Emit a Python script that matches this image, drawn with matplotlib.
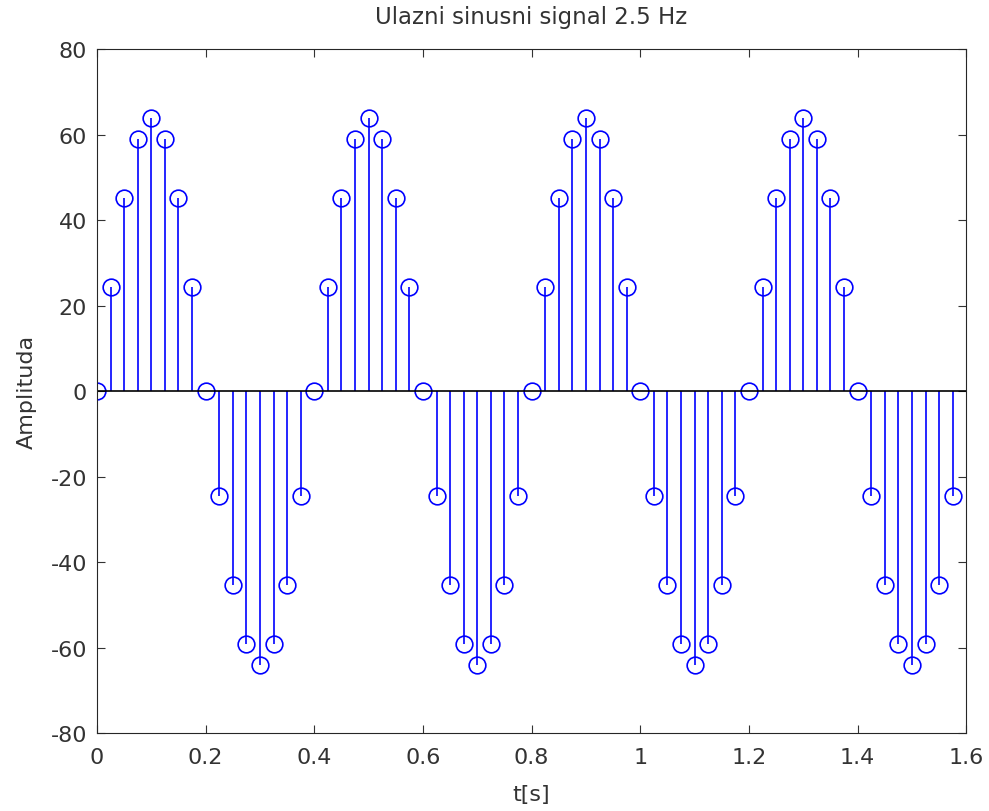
import numpy as np
import matplotlib.pyplot as plt

plt.rcParams['font.family'] = ['DejaVu Sans']
plt.rcParams['axes.unicode_minus'] = False

t = [0.000, 0.025, 0.050, 0.075, 0.100, 0.125, 0.150, 0.175,
     0.200, 0.225, 0.250, 0.275, 0.300, 0.325, 0.350, 0.375,
     0.400, 0.425, 0.450, 0.475, 0.500, 0.525, 0.550, 0.575,
     0.600, 0.625, 0.650, 0.675, 0.700, 0.725, 0.750, 0.775,
     0.800, 0.825, 0.850, 0.875, 0.900, 0.925, 0.950, 0.975,
     1.000, 1.025, 1.050, 1.075, 1.100, 1.125, 1.150, 1.175,
     1.200, 1.225, 1.250, 1.275, 1.300, 1.325, 1.350, 1.375,
     1.400, 1.425, 1.450, 1.475, 1.500, 1.525, 1.550, 1.575]
amp = [0, 24.5, 45.3, 59.1, 64, 59.1, 45.3, 24.5,
       0, -24.5, -45.3, -59.1, -64, -59.1, -45.3, -24.5,
       0, 24.5, 45.3, 59.1, 64, 59.1, 45.3, 24.5,
       0, -24.5, -45.3, -59.1, -64, -59.1, -45.3, -24.5,
       0, 24.5, 45.3, 59.1, 64, 59.1, 45.3, 24.5,
       0, -24.5, -45.3, -59.1, -64, -59.1, -45.3, -24.5,
       0, 24.5, 45.3, 59.1, 64, 59.1, 45.3, 24.5,
       0, -24.5, -45.3, -59.1, -64, -59.1, -45.3, -24.5]
xticks = [0, 0.2, 0.4, 0.6, 0.8, 1.0, 1.2, 1.4, 1.6]
xtick_labels = ['0', '0.2', '0.4', '0.6', '0.8', '1', '1.2', '1.4', '1.6']
yticks = [-80, -60, -40, -20, 0, 20, 40, 60, 80]

fig = plt.figure(figsize=(9.89, 8.12), dpi=100)
ax = fig.add_axes([0.098, 0.096, 0.879, 0.842])

ml, sl, bl = ax.stem(t, amp, basefmt='k-')
plt.setp(sl, color='#0000ff', linewidth=1.2)
plt.setp(ml, color='#0000ff', markerfacecolor='none', markersize=12, markeredgewidth=1.2)
plt.setp(bl, color='black', linewidth=1.2, xdata=[0, 1.6])

ax.set_xlim(0, 1.6)
ax.set_ylim(-80, 80)
ax.set_xticks(xticks)
ax.set_xticklabels(xtick_labels)
ax.set_yticks(yticks)
ax.tick_params(direction='in', top=True, right=True, labelsize=16, colors='#333333', length=6)
ax.tick_params(axis='x', pad=10)
ax.tick_params(axis='y', pad=7)
for s in ax.spines.values():
    s.set_color('#262626')
ax.set_title('Ulazni sinusni signal 2.5 Hz', fontsize=16.5, pad=19, color='#333333')
ax.set_xlabel('t[s]', fontsize=16, labelpad=12, color='#333333')
ax.set_ylabel('Amplituda', fontsize=16, labelpad=10, color='#333333')

fig.savefig('out.png', dpi=100)
